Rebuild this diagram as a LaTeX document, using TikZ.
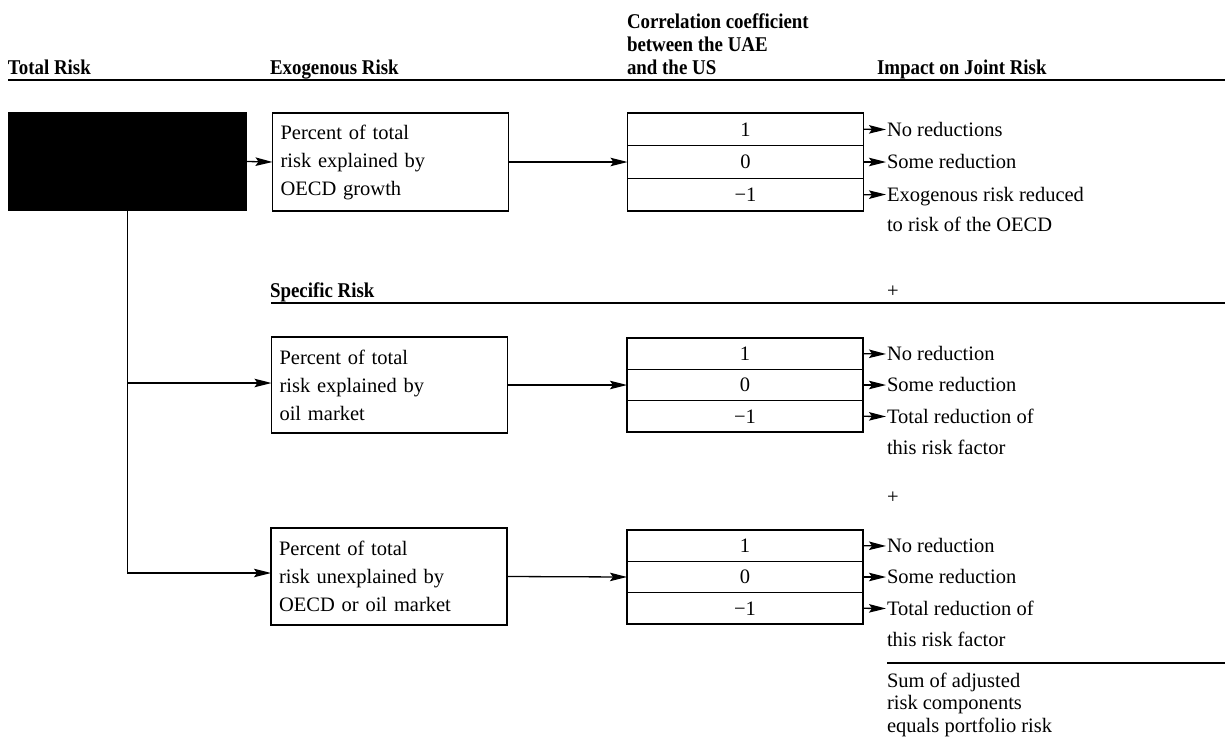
\documentclass[tikz,border=0pt]{standalone}
\usepackage{fontspec}
\setmainfont{Liberation Serif}
\newfontfamily\hfont[FakeStretch=0.9]{Liberation Serif}
\usetikzlibrary{arrows.meta}
\begin{document}
\begin{tikzpicture}[x=1pt,y=-1pt,
  every node/.style={inner sep=0pt, outer sep=0pt},
  txt/.style={font=\fontsize{20.5}{28}\selectfont},
  hd/.style={font=\hfont\bfseries\fontsize{21}{23}\selectfont, anchor=base west},
  box/.style={draw, line width=1.4pt, txt, align=left, text width=220pt, inner xsep=8pt, minimum height=#1},
  row/.style={draw, line width=1.4pt, txt, minimum width=236pt, minimum height=#1},
  lab/.style={txt, anchor=west, text height=13pt, text depth=0pt, inner xsep=1pt},
  rule/.style={line width=#1},
  arr/.style={line width=1.3pt, -{Stealth[length=17pt,width=8.5pt,inset=3pt]}}
]
\useasboundingbox (0,0) rectangle (1225,736);

% headers
\node[hd] (hTR) at (8,74) {Total Risk};
\node[hd] (hEx) at (270,74) {Exogenous Risk};
\node[hd, anchor=north west, align=left] (hCo) at (627,13.5) {Correlation coefficient\\between the UAE\\and the US};
\node[hd] (hIm) at (877,74) {Impact on Joint Risk};
\draw[rule=2.4pt] (8,80) -- (1225,80);

% total risk (blacked out)
\node[fill=black, minimum width=239pt, minimum height=99pt] (tot) at (127.5,161.5) {};

% exogenous block
\node[box=98] (exo) at (390.5,162) {Percent of total\\risk explained by\\OECD growth};
\node[row=32.7] (c11) at (745.5,129.3) {1};
\node[row=32.7] (c12) at (745.5,162) {0};
\node[row=32.7] (c13) at (745.5,194.7) {−1};
\node[lab] (r11) at (886,129.5) {No reductions};
\node[lab] (r12) at (886,162) {Some reduction};
\node[lab] (r13) at (886,194.5) {Exogenous risk reduced};
\node[lab] (r14) at (886,225) {to risk of the OECD};

% specific risk header
\node[hd] (hSp) at (270,297) {Specific Risk};
\draw[rule=2pt] (271,303) -- (1225,303);
\node[txt] (p1) at (893,292) {+};

% oil market block
\node[box=96] (b2) at (389.5,385) {Percent of total\\risk explained by\\oil market};
\node[row=31.3] (c21) at (745,353.7) {1};
\node[row=31.3] (c22) at (745,385) {0};
\node[row=31.3] (c23) at (745,416.3) {−1};
\node[lab] (r21) at (886,354) {No reduction};
\node[lab] (r22) at (886,385) {Some reduction};
\node[lab] (r23) at (886,416.5) {Total reduction of};
\node[lab] (r24) at (886,447.5) {this risk factor};

\node[txt] (p2) at (893,498) {+};

% unexplained block
\node[box=97] (b3) at (389,576.5) {Percent of total\\risk unexplained by\\OECD or oil market};
\node[row=31.3] (c31) at (745,545.7) {1};
\node[row=31.3] (c32) at (745,577) {0};
\node[row=31.3] (c33) at (745,608.3) {−1};
\node[lab] (r31) at (886,546) {No reduction};
\node[lab] (r32) at (886,577) {Some reduction};
\node[lab] (r33) at (886,608.5) {Total reduction of};
\node[lab] (r34) at (886,640) {this risk factor};

\draw[rule=2pt] (887,663) -- (1225,663);
\node[txt, font=\fontsize{20.5}{22.5}\selectfont, anchor=north west, align=left] (sum) at (887,673) {Sum of adjusted\\risk components\\equals portfolio risk};

% connectors
\coordinate (j1) at (127.5,383);
\coordinate (j2) at (127.5,573);
\draw[arr] (tot.east) -- (exo.west);
\draw[arr] (tot.south) -- (j2) -- (j2 -| b3.west);
\draw[arr] (j1) -- (j1 -| b2.west);
\draw[arr] (exo.east) -- (c12.west);
\draw[arr] (b2.east) -- (c22.west);
\draw[arr] (b3.east) -- (c32.west);
\foreach \g in {1,2,3}{
  \foreach \k in {1,2,3}{
    \draw[arr] (c\g\k.east) -- (r\g\k.west);
  }
}
\end{tikzpicture}
\end{document}
